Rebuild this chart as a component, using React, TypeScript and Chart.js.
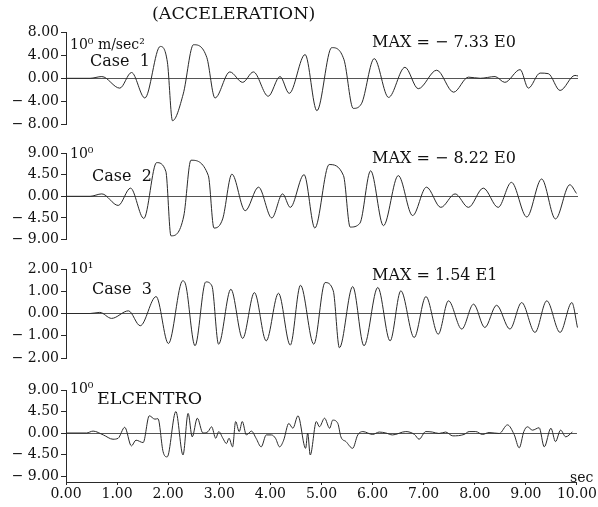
import React, { useEffect, useRef } from "react";
import { Chart, registerables } from "chart.js";

Chart.register(...registerables);

// ---------- data ----------
const X_TICKS = [0, 1, 2, 3, 4, 5, 6, 7, 8, 9, 10];

const Y_TICKS_1 = [-8, -4, 0, 4, 8];
const Y_TICKS_2 = [-9, -4.5, 0, 4.5, 9];
const Y_TICKS_3 = [-2, -1, 0, 1, 2];
const Y_TICKS_4 = [-9, -4.5, 0, 4.5, 9];

// Case 1 (x 10^0 m/sec^2)
const T1 = [0, 0.47, 0.7, 1.05, 1.28, 1.54, 1.84, 1.98, 2.08, 2.29, 2.49, 2.75, 2.91, 3.2, 3.45, 3.66, 3.95, 4.18, 4.36, 4.67, 4.9, 5.19, 5.43, 5.61, 5.77, 6.02, 6.3, 6.62, 6.88, 7.24, 7.57, 7.86, 8.09, 8.38, 8.57, 8.87, 9.03, 9.26, 9.42, 9.65, 9.94, 10.0];
const V1 = [0, 0, 0.3, -1.7, 1.0, -3.4, 5.5, 2.8, -7.33, -2.7, 5.8, 3.6, -3.4, 1.1, -0.7, 1.1, -3.1, 0.3, -2.6, 4.1, -5.6, 5.3, 3.2, -5.2, -4.4, 3.4, -3.3, 1.9, -1.8, 1.4, -2.4, 0.2, 0.0, 0.3, -0.7, 1.5, -1.7, 0.9, 0.8, -2.1, 0.5, 0.4];

// Case 2 (x 10^0)
const T2 = [0, 0.47, 0.7, 1.02, 1.26, 1.52, 1.77, 1.95, 2.05, 2.3, 2.44, 2.78, 2.89, 3.06, 3.24, 3.5, 3.76, 4.02, 4.23, 4.38, 4.65, 4.86, 5.14, 5.42, 5.55, 5.74, 5.95, 6.2, 6.49, 6.77, 7.04, 7.32, 7.6, 7.86, 8.15, 8.44, 8.7, 9.0, 9.29, 9.56, 9.84, 9.97];
const V2 = [0, 0, 0.5, -1.9, 1.7, -4.6, 7.0, 5.2, -8.22, -4.1, 7.5, 4.3, -6.6, -4.7, 4.6, -3.0, 1.9, -4.5, 0.5, -2.3, 4.5, -6.6, 6.6, 4.3, -6.4, -5.6, 5.3, -6.1, 4.3, -4.0, 1.9, -2.3, 0.5, -2.3, 1.7, -2.3, 2.9, -4.3, 3.6, -4.7, 2.4, 0.6];

// Case 3 (x 10^1)
const T3 = [0, 0.47, 0.66, 0.89, 1.22, 1.45, 1.76, 2.0, 2.28, 2.34, 2.52, 2.73, 2.85, 2.98, 3.22, 3.45, 3.68, 3.91, 4.15, 4.38, 4.58, 4.84, 5.06, 5.22, 5.34, 5.6, 5.82, 6.09, 6.33, 6.54, 6.8, 7.03, 7.27, 7.47, 7.73, 7.96, 8.18, 8.41, 8.67, 8.9, 9.16, 9.39, 9.65, 9.88, 9.99];
const V3 = [0, 0, 0.05, -0.22, 0.12, -0.55, 0.76, -1.35, 1.47, 1.27, -1.45, 1.42, 1.24, -1.38, 1.09, -1.12, 0.94, -1.23, 0.91, -1.42, 1.27, -1.38, 1.39, 1.02, -1.54, 1.21, -1.45, 1.17, -1.23, 1.02, -1.08, 0.76, -0.93, 0.57, -0.7, 0.42, -0.63, 0.37, -0.7, 0.49, -0.85, 0.57, -0.85, 0.49, -0.63];

// ELCENTRO (x 10^0)
const T4 = [0, 0.4, 0.53, 0.73, 0.92, 1.02, 1.15, 1.28, 1.37, 1.51, 1.63, 1.74, 1.8, 1.9, 1.98, 2.15, 2.29, 2.39, 2.47, 2.57, 2.68, 2.78, 2.85, 2.93, 2.99, 3.07, 3.14, 3.19, 3.26, 3.32, 3.39, 3.45, 3.53, 3.63, 3.72, 3.82, 3.92, 4.02, 4.1, 4.18, 4.26, 4.36, 4.44, 4.54, 4.69, 4.73, 4.78, 4.9, 4.96, 5.06, 5.16, 5.22, 5.32, 5.38, 5.48, 5.61, 5.71, 5.81, 6.0, 6.13, 6.26, 6.39, 6.65, 6.82, 6.91, 7.04, 7.17, 7.3, 7.43, 7.57, 7.79, 7.89, 8.02, 8.15, 8.28, 8.48, 8.64, 8.77, 8.87, 8.96, 9.03, 9.13, 9.26, 9.36, 9.49, 9.58, 9.68, 9.78, 9.91];
const V4 = [0, 0, 0.4, -0.4, -1.3, -1.1, 1.2, -2.7, -1.5, -2.0, 3.6, 2.9, 3.0, -3.9, -5.0, 4.5, -4.6, 4.1, -0.8, 3.1, 0, 0.3, 1.3, -1.1, 0.3, -1.1, -2.2, -1.1, -2.9, 2.4, 0.3, 2.4, -0.4, 0.4, -1.1, -2.9, -0.4, -0.4, -1.1, -2.9, -1.5, 2.0, 1.0, 3.6, -3.2, 0, -4.6, 2.4, 1.3, 3.1, 1.0, 2.7, 2.0, -0.8, -1.8, -3.2, -0.4, 0.3, -0.3, 0.2, 0, -0.4, 0.3, -0.3, -1.3, 0.3, 0.2, -0.1, 0.2, -0.6, -0.3, 0.3, 0.3, -0.3, 0.1, -0.1, 1.7, -0.3, -3.1, 0.3, 1.3, 0.6, 1.1, -2.9, 1.0, -1.8, 0.6, -0.8, 0.2];

// ---------- layout / style ----------
const FONT = "'DejaVu Serif', serif";
const INK = "#2a2a2a";

type PanelCfg = {
  times: number[];
  values: number[];
  yTicks: number[];
  yMin: number;
  yMax: number;
  top: number;
  height: number;
  padTop: number;
  padBottom: number;
  showX: boolean;
};

const PANELS: PanelCfg[] = [
  { times: T1, values: V1, yTicks: Y_TICKS_1, yMin: -8, yMax: 8, top: 0, height: 135, padTop: 32, padBottom: 10, showX: false },
  { times: T2, values: V2, yTicks: Y_TICKS_2, yMin: -9, yMax: 9, top: 128, height: 122, padTop: 25, padBottom: 10, showX: false },
  { times: T3, values: V3, yTicks: Y_TICKS_3, yMin: -2, yMax: 2, top: 245, height: 125, padTop: 24, padBottom: 12, showX: false },
  { times: T4, values: V4, yTicks: Y_TICKS_4, yMin: -10.25, yMax: 9, top: 365, height: 142, padTop: 25, padBottom: 0, showX: true },
];

function fmt(v: number): string {
  if (Math.abs(v) < 1e-9) return "0.00";
  return v < 0 ? "\u2212 " + Math.abs(v).toFixed(2) : v.toFixed(2);
}

function Panel({ cfg }: { cfg: PanelCfg }) {
  const ref = useRef<HTMLCanvasElement | null>(null);
  useEffect(() => {
    if (!ref.current) return;
    const data = cfg.times.map((t, i) => ({ x: t, y: cfg.values[i] }));
    const chart = new Chart(ref.current, {
      type: "line",
      data: {
        datasets: [
          {
            data,
            borderColor: INK,
            borderWidth: 1,
            pointRadius: 0,
            cubicInterpolationMode: "monotone",
            fill: false,
          },
        ],
      },
      options: {
        animation: false,
        responsive: false,
        events: [],
        layout: {
          autoPadding: false,
          padding: { top: cfg.padTop, bottom: cfg.padBottom, left: 0, right: 20 },
        },
        plugins: { legend: { display: false }, tooltip: { enabled: false }, title: { display: false } },
        scales: {
          x: {
            type: "linear",
            min: 0,
            max: 10,
            display: cfg.showX,
            afterBuildTicks: (s: any) => {
              s.ticks = X_TICKS.map((v) => ({ value: v }));
            },
            afterFit: (s: any) => {
              s.height = cfg.showX ? 25 : 0;
            },
            grid: { drawOnChartArea: false, tickLength: 3, tickColor: INK, lineWidth: 1 },
            border: { display: true, color: INK, width: 1 },
            ticks: {
              autoSkip: false,
              maxRotation: 0,
              padding: 1,
              color: "#111",
              font: { family: FONT, size: 14 },
              callback: (v: any) => Number(v).toFixed(2),
            },
          },
          y: {
            type: "linear",
            min: cfg.yMin,
            max: cfg.yMax,
            afterBuildTicks: (s: any) => {
              s.ticks = cfg.yTicks.map((v) => ({ value: v }));
            },
            afterFit: (s: any) => {
              s.width = 66;
            },
            grid: {
              drawOnChartArea: true,
              tickLength: 5,
              tickColor: INK,
              lineWidth: 1,
              color: (ctx: any) => (ctx.tick && Math.abs(ctx.tick.value) < 1e-9 ? "#555" : "rgba(0,0,0,0)"),
            },
            border: { display: true, color: INK, width: 1 },
            ticks: {
              autoSkip: false,
              padding: 2,
              color: "#111",
              font: { family: FONT, size: 14 },
              callback: (v: any) => fmt(Number(v)),
            },
          },
        },
      } as any,
    });
    return () => chart.destroy();
  }, [cfg]);
  return (
    <canvas
      ref={ref}
      width={598}
      height={cfg.height}
      style={{ position: "absolute", left: 0, top: cfg.top, width: 598, height: cfg.height }}
    />
  );
}

function Label({ x, y, size, children }: { x: number; y: number; size: number; children: React.ReactNode }) {
  return (
    <div
      style={{
        position: "absolute",
        left: x,
        top: y,
        transform: "translateY(-50%)",
        fontFamily: FONT,
        fontSize: size,
        lineHeight: 1,
        color: "#111",
        whiteSpace: "pre",
      }}
    >
      {children}
    </div>
  );
}

export default function App() {
  return (
    <div style={{ position: "fixed", left: 0, top: 0, width: 598, height: 507, background: "#fff", overflow: "hidden" }}>
      {PANELS.map((p, i) => (
        <Panel key={i} cfg={p} />
      ))}
      <Label x={152} y={14} size={17.5}>(ACCELERATION)</Label>
      <Label x={70} y={44} size={14}>10⁰ m/sec²</Label>
      <Label x={90} y={61} size={16}>Case  1</Label>
      <Label x={372} y={42} size={16}>MAX = − 7.33 E0</Label>

      <Label x={70} y={153} size={14}>10⁰</Label>
      <Label x={92} y={176} size={16}>Case  2</Label>
      <Label x={372} y={158} size={16}>MAX = − 8.22 E0</Label>

      <Label x={70} y={268} size={14}>10¹</Label>
      <Label x={92} y={289} size={16}>Case  3</Label>
      <Label x={372} y={275} size={16}>MAX = 1.54 E1</Label>

      <Label x={70} y={388} size={14}>10⁰</Label>
      <Label x={97} y={399} size={17.5}>ELCENTRO</Label>
      <Label x={570} y={477} size={14}>sec</Label>
    </div>
  );
}
